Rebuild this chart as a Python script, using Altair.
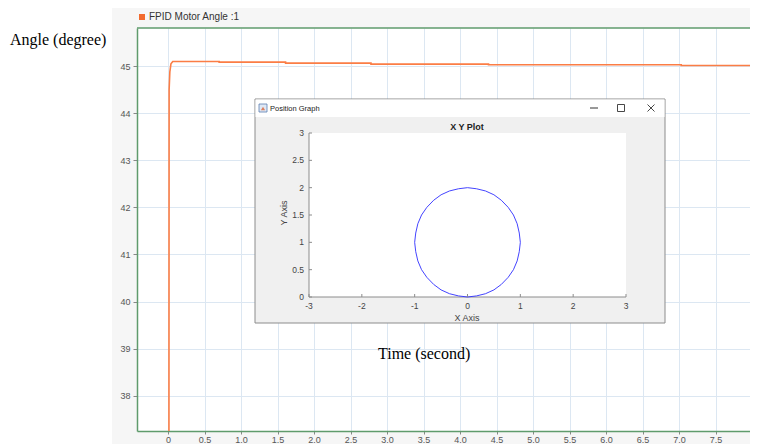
import altair as alt
import pandas as pd

# ---------------- data ----------------
# main scope trace (FPID Motor Angle)
time_s = [0.0, 0.015, 0.025, 0.04, 0.065, 0.70, 0.70, 1.61, 1.61, 2.78, 2.78, 4.39, 4.39, 7.03, 7.03, 8.08]
angle_deg = [0.0, 44.5, 44.88, 45.05, 45.098, 45.098, 45.085, 45.085, 45.064, 45.064,
             45.042, 45.042, 45.028, 45.028, 45.013, 45.013]
x_ticks = [0, 0.5, 1.0, 1.5, 2.0, 2.5, 3.0, 3.5, 4.0, 4.5, 5.0, 5.5, 6.0, 6.5, 7.0, 7.5, 8.0]
y_ticks = [38, 39, 40, 41, 42, 43, 44, 45]

# inset X Y plot (position graph): points
circ_x = [0.00, 0.17, 0.34, 0.50, 0.64, 0.77, 0.87, 0.94, 0.98, 1.00, 0.98, 0.94, 0.87, 0.77, 0.64, 0.50, 0.34, 0.17,
          0.00, -0.17, -0.34, -0.50, -0.64, -0.77, -0.87, -0.94, -0.98, -1.00, -0.98, -0.94, -0.87, -0.77, -0.64,
          -0.50, -0.34, -0.17, 0.00]
circ_y = [0.00, 0.02, 0.06, 0.13, 0.23, 0.36, 0.50, 0.66, 0.83, 1.00, 1.17, 1.34, 1.50, 1.64, 1.77, 1.87, 1.94, 1.98,
          2.00, 1.98, 1.94, 1.87, 1.77, 1.64, 1.50, 1.34, 1.17, 1.00, 0.83, 0.66, 0.50, 0.36, 0.23,
          0.13, 0.06, 0.02, 0.00]
inset_x_ticks = [-3, -2, -1, 0, 1, 2, 3]
inset_x_labels = ["-3", "-2", "-1", "0", "1", "2", "3"]
inset_y_ticks = [0, 0.5, 1, 1.5, 2, 2.5, 3]
inset_y_labels = ["0", "0.5", "1", "1.5", "2", "2.5", "3"]

# ---------------- styling ----------------
W, H = 613, 403
GREEN = "#5f9b6c"
GRID = "#dce7f2"
ORANGE = "#fb7d45"
SANS = "Liberation Sans"
SERIF = "Liberation Serif"

one = pd.DataFrame({"k": [0]})
main_df = pd.DataFrame({"t": time_s, "v": angle_deg, "i": list(range(len(time_s)))})

xs = alt.Scale(domain=[-0.425, 7.972], nice=False, zero=False)
ys = alt.Scale(domain=[37.25, 45.81], nice=False, zero=False)

line = alt.Chart(main_df).mark_line(color=ORANGE, strokeWidth=1.6, clip=True).encode(
    x=alt.X("t:Q", scale=xs, axis=alt.Axis(
        values=x_ticks, labelExpr="datum.value == 0 ? '0' : format(datum.value, '.1f')",
        grid=True, gridColor=GRID, gridWidth=1, domainColor=GREEN, domainWidth=1.5,
        tickColor="#888", tickSize=3, labelPadding=1, labelFont=SANS, labelFontSize=9,
        labelColor="#555", title=None)),
    y=alt.Y("v:Q", scale=ys, axis=alt.Axis(
        values=y_ticks, grid=True, gridColor=GRID, gridWidth=1, domainColor=GREEN, domainWidth=1.5,
        tickColor="#888", tickSize=4, labelPadding=3, labelFont=SANS, labelFontSize=9,
        labelColor="#555", title=None)),
    order="i:Q",
)

white_left = alt.Chart(one).mark_rect(color="white").encode(
    x=alt.value(-129), x2=alt.value(-25), y=alt.value(-20), y2=alt.value(H + 13))
top_border = alt.Chart(one).mark_rule(color=GREEN, strokeWidth=1.5).encode(
    x=alt.value(0), x2=alt.value(W), y=alt.value(0))
legend_sq = alt.Chart(one).mark_rect(color="#f26a2e").encode(
    x=alt.value(2), x2=alt.value(8), y=alt.value(-14), y2=alt.value(-8))
legend_tx = alt.Chart(one).mark_text(text="FPID Motor Angle :1", align="left", baseline="middle",
                                     font=SANS, fontSize=10, color="#333").encode(
    x=alt.value(12), y=alt.value(-11))
ytitle = alt.Chart(one).mark_text(text="Angle (degree)", align="left", baseline="middle",
                                  font=SERIF, fontSize=16, color="black").encode(
    x=alt.value(-127), y=alt.value(12))
xtitle = alt.Chart(one).mark_text(text="Time (second)", align="left", baseline="middle",
                                  font=SERIF, fontSize=16, color="black").encode(
    x=alt.value(241), y=alt.value(326))

main = alt.layer(line, white_left, top_border, legend_sq, legend_tx, ytitle, xtitle)

# ---------------- inset window ----------------
ix = alt.Scale(domain=[-3, 3], range=[172, 489], nice=False, zero=False)
iy = alt.Scale(domain=[0, 3], range=[269, 105], nice=False, zero=False)

frame = alt.Chart(one).mark_rect(fill="#f0f0f0", stroke="#8c8c8c", strokeWidth=1).encode(
    x=alt.value(118), x2=alt.value(528), y=alt.value(71), y2=alt.value(295))
titlebar = alt.Chart(one).mark_rect(fill="white").encode(
    x=alt.value(118.5), x2=alt.value(527.5), y=alt.value(71.5), y2=alt.value(89))
axbox = alt.Chart(one).mark_rect(fill="white").encode(
    x=alt.value(172), x2=alt.value(489), y=alt.value(105), y2=alt.value(269))
icon = alt.Chart(one).mark_rect(fill="#dfe8f5", stroke="#5a7fb0", strokeWidth=0.8).encode(
    x=alt.value(122), x2=alt.value(130), y=alt.value(76), y2=alt.value(84))
icon_peak = alt.Chart(one).mark_point(shape="triangle-up", filled=True, color="#d9531e", size=18).encode(
    x=alt.value(126), y=alt.value(80.5))
win_title = alt.Chart(one).mark_text(text="Position Graph", align="left", baseline="middle",
                                     font=SANS, fontSize=7.5, color="#222").encode(
    x=alt.value(133), y=alt.value(81))
btn_min = alt.Chart(one).mark_rule(color="#333", strokeWidth=1).encode(
    x=alt.value(453), x2=alt.value(461), y=alt.value(80))
btn_max = alt.Chart(one).mark_rect(fill="white", stroke="#333", strokeWidth=0.9).encode(
    x=alt.value(480.5), x2=alt.value(487.5), y=alt.value(76.5), y2=alt.value(83.5))
btn_x1 = alt.Chart(one).mark_rule(color="#333", strokeWidth=0.9).encode(
    x=alt.value(510.5), x2=alt.value(517.5), y=alt.value(76.5), y2=alt.value(83.5))
btn_x2 = alt.Chart(one).mark_rule(color="#333", strokeWidth=0.9).encode(
    x=alt.value(510.5), x2=alt.value(517.5), y=alt.value(83.5), y2=alt.value(76.5))
plot_title = alt.Chart(one).mark_text(text="X Y Plot", align="center", baseline="middle",
                                      font=SANS, fontSize=9, fontWeight="bold", color="#222").encode(
    x=alt.value(330), y=alt.value(99))
ax_left = alt.Chart(one).mark_rule(color="#8c8c8c", strokeWidth=1).encode(
    x=alt.value(172), y=alt.value(105), y2=alt.value(269))
ax_bottom = alt.Chart(one).mark_rule(color="#8c8c8c", strokeWidth=1).encode(
    x=alt.value(172), x2=alt.value(489), y=alt.value(269))

circ_df = pd.DataFrame({"x": circ_x, "y": circ_y, "i": list(range(len(circ_x)))})
circle = alt.Chart(circ_df).mark_line(color="#2f2fff", strokeWidth=0.9).encode(
    x=alt.X("x:Q", scale=ix, axis=None), y=alt.Y("y:Q", scale=iy, axis=None), order="i:Q")

ixt = pd.DataFrame({"v": inset_x_ticks, "lab": inset_x_labels})
iyt = pd.DataFrame({"v": inset_y_ticks, "lab": inset_y_labels})
xt_marks = alt.Chart(ixt).mark_rule(color="#8c8c8c").encode(
    x=alt.X("v:Q", scale=ix, axis=None), y=alt.value(266), y2=alt.value(269))
yt_marks = alt.Chart(iyt).mark_rule(color="#8c8c8c").encode(
    y=alt.Y("v:Q", scale=iy, axis=None), x=alt.value(172), x2=alt.value(175))
xt_labels = alt.Chart(ixt).mark_text(align="center", baseline="middle", font=SANS, fontSize=8.5,
                                     color="#444").encode(
    x=alt.X("v:Q", scale=ix, axis=None), y=alt.value(278), text="lab:N")
yt_labels = alt.Chart(iyt).mark_text(align="right", baseline="middle", font=SANS, fontSize=8.5,
                                     color="#444").encode(
    y=alt.Y("v:Q", scale=iy, axis=None), x=alt.value(167), text="lab:N")
x_lab = alt.Chart(one).mark_text(text="X Axis", align="center", baseline="middle", font=SANS,
                                 fontSize=9, color="#444").encode(x=alt.value(330), y=alt.value(290))
y_lab = alt.Chart(one).mark_text(text="Y Axis", align="center", baseline="middle", font=SANS,
                                 fontSize=9, color="#444", angle=270).encode(x=alt.value(147), y=alt.value(185))

inset = alt.layer(frame, titlebar, axbox, icon, icon_peak, win_title, btn_min, btn_max, btn_x1, btn_x2,
                  plot_title, ax_left, ax_bottom, circle, xt_marks, yt_marks, xt_labels, yt_labels,
                  x_lab, y_lab)

chart = alt.layer(main, inset).resolve_scale(x="independent", y="independent").properties(
    width=W, height=H, background="#f6f6f6",
    padding={"left": 129, "top": 20, "right": 0, "bottom": 13},
    autosize=alt.AutoSizeParams(type="none"),
).configure_view(fill="white", strokeWidth=0)

chart.save("out.html", embed_options={"renderer": "svg", "actions": False})
